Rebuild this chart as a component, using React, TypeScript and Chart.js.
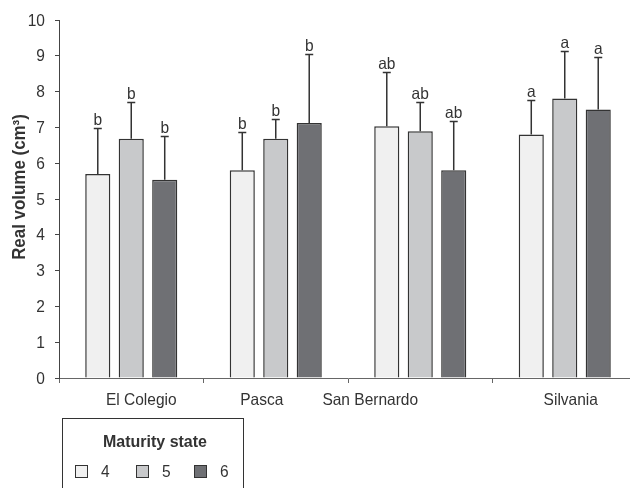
import React, { useEffect, useRef } from "react";
import { Chart, registerables } from "chart.js";

Chart.register(...registerables);

// Localities and mean real volume per maturity state
const localities = ["El Colegio", "Pasca", "San Bernardo", "Silvania"];
const maturityStates = ["4", "5", "6"];

const volume4 = [5.7, 5.8, 7.03, 6.8];
const volume5 = [6.68, 6.68, 6.89, 7.81];
const volume6 = [5.54, 7.12, 5.8, 7.5];

// Upper end of the standard-deviation whiskers
const upper4 = [6.97, 6.86, 8.56, 7.77];
const upper5 = [7.71, 7.24, 7.71, 9.14];
const upper6 = [6.77, 9.05, 7.18, 8.98];

// Significance letters
const letters4 = ["b", "b", "ab", "a"];
const letters5 = ["b", "b", "ab", "a"];
const letters6 = ["b", "b", "ab", "a"];

const yTicks = [0, 1, 2, 3, 4, 5, 6, 7, 8, 9, 10];

const FONT = "'Liberation Sans', Arial, Helvetica, sans-serif";
const INK = "#333333";
const FILLS = ["#f0f0f0", "#c8c9cb", "#6f7074"];
const SQUEEZE = 0.94; // condensed look for all text

// horizontal nudges for the locality names under the axis
const labelShift = [10, -14, -50, 6];

function text(
  ctx: CanvasRenderingContext2D,
  s: string,
  x: number,
  y: number,
  font: string,
  align: CanvasTextAlign,
  baseline: CanvasTextBaseline = "alphabetic"
) {
  ctx.save();
  ctx.translate(x, y);
  ctx.scale(SQUEEZE, 1);
  ctx.font = font;
  ctx.textAlign = align;
  ctx.textBaseline = baseline;
  ctx.fillStyle = INK;
  ctx.fillText(s, 0, 0);
  ctx.restore();
}

const annotations = {
  id: "annotations",
  afterDatasetsDraw(chart: any) {
    const { ctx } = chart;
    const y = chart.scales.y;
    const uppers = [upper4, upper5, upper6];
    const letters = [letters4, letters5, letters6];
    ctx.save();
    chart.data.datasets.forEach((_ds: any, di: number) => {
      const meta = chart.getDatasetMeta(di);
      meta.data.forEach((bar: any, i: number) => {
        const top = Math.round(y.getPixelForValue(uppers[di][i])) + 0.5;
        ctx.strokeStyle = INK;
        ctx.lineWidth = 1.5;
        ctx.beginPath();
        ctx.moveTo(bar.x, bar.y);
        ctx.lineTo(bar.x, top);
        ctx.moveTo(bar.x - 4, top);
        ctx.lineTo(bar.x + 4, top);
        ctx.stroke();
        text(ctx, letters[di][i], bar.x, top - 4, `16.5px ${FONT}`, "center");
      });
    });
    ctx.restore();
  },
  afterDraw(chart: any) {
    const { ctx } = chart;
    const x = chart.scales.x;
    const y = chart.scales.y;
    ctx.save();
    // y tick labels
    yTicks.forEach((v) => {
      text(ctx, String(v), 45, y.getPixelForValue(v) + 1, `16.5px ${FONT}`, "right", "middle");
    });
    // locality names
    localities.forEach((name, i) => {
      text(ctx, name, x.getPixelForValue(i) + labelShift[i], 405, `16.5px ${FONT}`, "center");
    });
    // y axis title
    ctx.save();
    ctx.translate(20, 187);
    ctx.rotate(-Math.PI / 2);
    text(ctx, "Real volume (cm\u00b3)", 0, 0, `bold 18px ${FONT}`, "center", "middle");
    ctx.restore();
    // legend box
    ctx.strokeStyle = INK;
    ctx.lineWidth = 1;
    ctx.strokeRect(62.5, 418.5, 181, 80);
    text(ctx, "Maturity state", 155, 447, `bold 17px ${FONT}`, "center");
    const sx = [75, 136, 194];
    maturityStates.forEach((s, i) => {
      ctx.fillStyle = FILLS[i];
      ctx.fillRect(sx[i] + 0.5, 465.5, 12, 12);
      ctx.strokeRect(sx[i] + 0.5, 465.5, 12, 12);
      text(ctx, s, sx[i] + 26, 477, `16.5px ${FONT}`, "left");
    });
    ctx.restore();
  },
};

export default function App() {
  const ref = useRef<HTMLCanvasElement | null>(null);

  useEffect(() => {
    if (!ref.current) return;
    const series = [volume4, volume5, volume6];
    const chart = new Chart(ref.current, {
      type: "bar",
      data: {
        labels: localities,
        datasets: maturityStates.map((s, i) => ({
          label: s,
          data: series[i],
          backgroundColor: FILLS[i],
          borderColor: INK,
          borderWidth: 1.5,
          borderSkipped: "bottom",
          categoryPercentage: 0.695,
          barPercentage: 0.75,
        })),
      },
      options: {
        animation: false,
        responsive: false,
        devicePixelRatio: 1,
        layout: { padding: { left: 0, top: 20, right: 13, bottom: 0 } },
        plugins: { legend: { display: false }, tooltip: { enabled: false } },
        scales: {
          x: {
            offset: true,
            grid: {
              offset: true,
              drawOnChartArea: false,
              tickLength: 5,
              color: "#666",
            },
            border: { color: "#666", width: 1 },
            ticks: { display: false },
            afterFit: (s: any) => {
              s.height = 110;
            },
          },
          y: {
            min: 0,
            max: 10,
            afterBuildTicks: (s: any) => {
              s.ticks = yTicks.map((v) => ({ value: v }));
            },
            grid: { drawOnChartArea: false, tickLength: 4, color: "#444" },
            border: { color: "#444", width: 1 },
            ticks: { display: false },
            afterFit: (s: any) => {
              s.width = 59;
            },
          },
        },
      },
      plugins: [annotations],
    });
    return () => chart.destroy();
  }, []);

  return (
    <div
      style={{
        position: "fixed",
        left: 0,
        top: 0,
        width: 630,
        height: 488,
        overflow: "hidden",
        background: "#fff",
      }}
    >
      <canvas ref={ref} width={650} height={488} style={{ display: "block" }} />
    </div>
  );
}
